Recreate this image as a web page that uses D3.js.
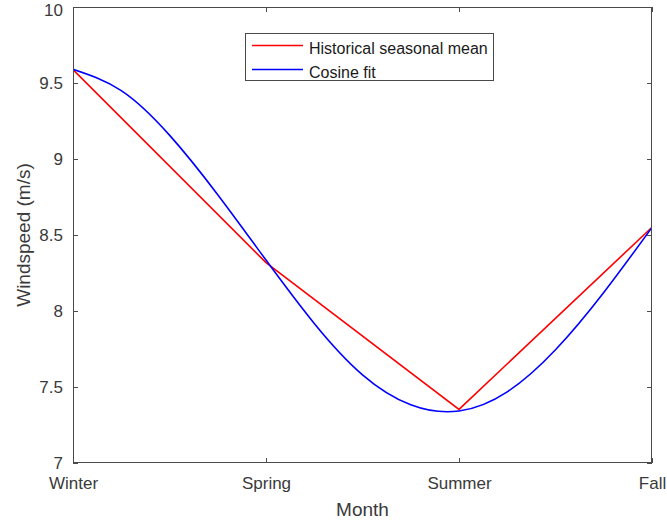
<!DOCTYPE html>
<html>
<head>
<meta charset="utf-8">
<script src="https://cdn.jsdelivr.net/npm/d3@7"></script>
<style>
  html, body { margin: 0; padding: 0; background: #fff; }
  svg { display: block; font-family: "Liberation Sans", Arial, Helvetica, sans-serif; }
</style>
</head>
<body>
<svg id="chart" width="667" height="523"></svg>
<script>
// Seasons along the x axis
const seasons = ["Winter", "Spring", "Summer", "Fall"];
// Historical seasonal mean windspeed (m/s)
const seasonalMean = [9.588, 8.318, 7.353, 8.551];
// Cosine fit sampled every quarter season (x in season index units)
const fitX = [0, 0.25, 0.5, 0.75, 1, 1.25, 1.5, 1.75, 2, 2.25, 2.5, 2.75, 3];
const fitY = [9.59, 9.45, 9.157, 8.765, 8.335, 7.918, 7.58, 7.383, 7.342, 7.468, 7.745, 8.122, 8.55];
// Y tick values and labels
const yTicks = [7, 7.5, 8, 8.5, 9, 9.5, 10];
const yTickLabels = ["7", "7.5", "8", "8.5", "9", "9.5", "10"];
const legendLabels = ["Historical seasonal mean", "Cosine fit"];

const svg = d3.select("#chart");
const plot = { left: 73, right: 652, top: 7, bottom: 463 };
const axisColor = "#4a4a4a";
const textColor = "#3a3a3a";

const x = d3.scaleLinear().domain([0, seasons.length - 1]).range([plot.left, plot.right]);
const y = d3.scaleLinear().domain([7, 10]).range([plot.bottom, plot.top]);

// Axes with inward ticks
const xAxis = d3.axisBottom(x)
  .tickValues(d3.range(seasons.length))
  .tickFormat(i => seasons[i])
  .tickSizeInner(-5).tickSizeOuter(0).tickPadding(14);
const yAxis = d3.axisLeft(y)
  .tickValues(yTicks)
  .tickFormat((d, i) => yTickLabels[i])
  .tickSizeInner(-5).tickSizeOuter(0).tickPadding(10);

function styleAxis(g) {
  g.select(".domain").remove();
  g.selectAll(".tick line").attr("stroke", axisColor);
  g.selectAll(".tick text").attr("fill", textColor).style("font-size", "17px")
    .style("font-family", "'Liberation Sans', Arial, sans-serif");
}

svg.append("g").attr("transform", `translate(0,${plot.bottom})`).call(xAxis).call(styleAxis);
const yG = svg.append("g").attr("transform", `translate(${plot.left},0)`).call(yAxis).call(styleAxis);
// Keep the top tick label inside the canvas
yG.selectAll(".tick text").filter(d => d === 10).attr("dy", "0.5em");

// Mirrored ticks on the top and right edges
svg.append("g").attr("transform", `translate(0,${plot.top})`)
  .call(d3.axisTop(x).tickValues(d3.range(seasons.length)).tickFormat("").tickSizeInner(-5).tickSizeOuter(0))
  .call(g => { g.select(".domain").remove(); g.selectAll(".tick line").attr("stroke", axisColor); });
svg.append("g").attr("transform", `translate(${plot.right},0)`)
  .call(d3.axisRight(y).tickValues(yTicks).tickFormat("").tickSizeInner(-5).tickSizeOuter(0))
  .call(g => { g.select(".domain").remove(); g.selectAll(".tick line").attr("stroke", axisColor); });

// Clip for the data lines
svg.append("clipPath").attr("id", "plotClip")
  .append("rect")
  .attr("x", plot.left).attr("y", plot.top)
  .attr("width", plot.right - plot.left).attr("height", plot.bottom - plot.top);

const meanLine = d3.line().x((d, i) => x(i)).y(d => y(d));
const fitLine = d3.line().x((d, i) => x(fitX[i])).y(d => y(d)).curve(d3.curveNatural);

const lines = svg.append("g").attr("clip-path", "url(#plotClip)");
lines.append("path").datum(seasonalMean)
  .attr("d", meanLine).attr("fill", "none")
  .attr("stroke", "#ff0000").attr("stroke-width", 1.6);
lines.append("path").datum(fitY)
  .attr("d", fitLine).attr("fill", "none")
  .attr("stroke", "#0000ff").attr("stroke-width", 1.6);

// Plot box
svg.append("rect")
  .attr("x", plot.left + 0.5).attr("y", plot.top + 0.5)
  .attr("width", plot.right - plot.left - 1).attr("height", plot.bottom - plot.top - 1)
  .attr("fill", "none").attr("stroke", axisColor).attr("stroke-width", 1);

// Axis labels
svg.append("text")
  .attr("x", (plot.left + plot.right) / 2).attr("y", 516)
  .attr("text-anchor", "middle").attr("fill", textColor)
  .style("font-size", "19px").text("Month");
svg.append("text")
  .attr("transform", `translate(30,${(plot.top + plot.bottom) / 2}) rotate(-90)`)
  .attr("text-anchor", "middle").attr("fill", textColor)
  .style("font-size", "19px").text("Windspeed (m/s)");

// Legend
const legend = svg.append("g");
legend.append("rect")
  .attr("x", 245.5).attr("y", 33.5).attr("width", 248).attr("height", 47)
  .attr("fill", "#fff").attr("stroke", axisColor).attr("stroke-width", 1);
const legendColors = ["#ff0000", "#0000ff"];
legendLabels.forEach((label, i) => {
  const ly = 45.5 + i * 24;
  legend.append("line")
    .attr("x1", 252).attr("x2", 303).attr("y1", ly).attr("y2", ly)
    .attr("stroke", legendColors[i]).attr("stroke-width", 1.6);
  legend.append("text")
    .attr("x", 309).attr("y", ly + 8)
    .attr("fill", "#1a1a1a").style("font-size", "16px").text(label);
});
</script>
</body>
</html>
